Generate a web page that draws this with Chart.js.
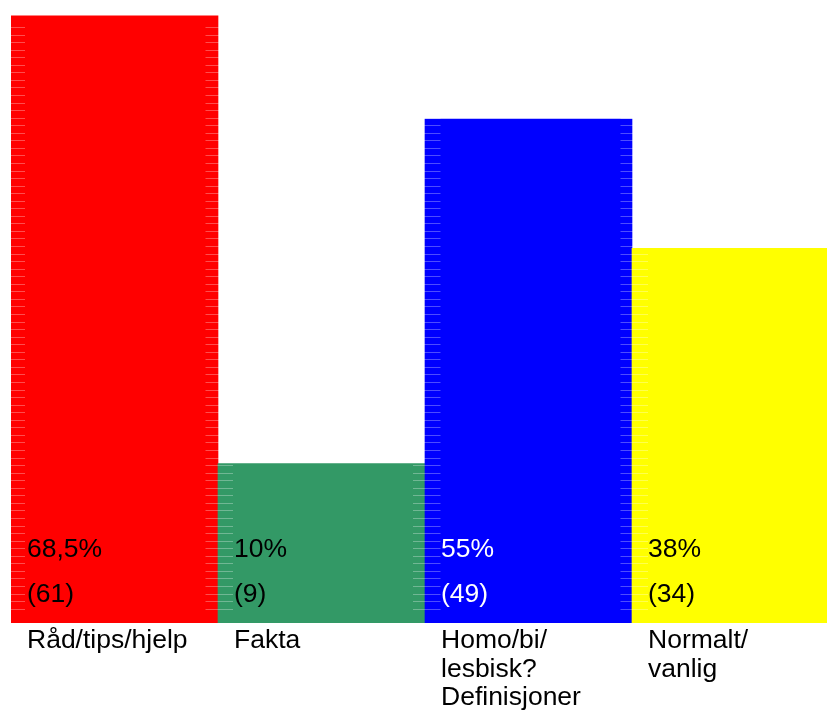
<!DOCTYPE html>
<html>
<head>
<meta charset="utf-8">
<script src="https://cdn.jsdelivr.net/npm/chart.js@4"></script>
<style>
  html, body { margin: 0; padding: 0; background: #fff; overflow: hidden; }
  #wrap { width: 850px; height: 711px; }
</style>
</head>
<body>
<div id="wrap"><canvas id="chart" width="850" height="711"></canvas></div>
<script>
// DATA -----------------------------------------------------------------------

const categories = [['Råd/tips/hjelp'], ['Fakta'], ['Homo/bi/', 'lesbisk?', 'Definisjoner'], ['Normalt/', 'vanlig']];
const counts = [61, 9, 49, 34];
const percentLabels = ['68,5%', '10%', '55%', '38%'];
const barColors = ['#FF0000', '#339966', '#0000FF', '#FFFF00'];
const textColors = ['#000000', '#000000', '#FFFFFF', '#000000'];

// bars hang from the bottom of the plot, below the zero line
const axisFloor = -9.5;
const axisTop = 61.2;

const font = '26.5px "Liberation Sans", Arial, sans-serif';

// LABEL PLUGIN ---------------------------------------------------------------

const barText = {
    id: 'barText',
    afterDraw(chart) {
        const ctx = chart.ctx;
        const meta = chart.getDatasetMeta(0);
        const bottom = chart.chartArea.bottom;
        ctx.save();
        ctx.font = font;
        ctx.textAlign = 'left';
        ctx.textBaseline = 'alphabetic';
        meta.data.forEach((bar, i) => {
            const left = bar.x - bar.width / 2 + 16;
            ctx.fillStyle = textColors[i];
            ctx.fillText(percentLabels[i], left, bottom - 66.5);
            ctx.fillText('(' + counts[i] + ')', left, bottom - 21.5);
            ctx.fillStyle = '#000000';
            categories[i].forEach((line, j) => {
                ctx.fillText(line, left, bottom + 25 + j * 28.7);
            });
        });
        ctx.restore();
    }
};

// CHART ----------------------------------------------------------------------

new Chart(document.getElementById('chart'), {
    type: 'bar',
    data: {
        labels: categories.map(c => c.join(' ')),
        datasets: [{
            data: counts.map(c => [axisFloor, c]),
            backgroundColor: barColors,
            borderWidth: 0,
            barPercentage: 1,
            categoryPercentage: 1
        }]
    },
    options: {
        responsive: false,
        animation: false,
        layout: {
            padding: {left: 11, right: 11, top: 14, bottom: 88}
        },
        plugins: {
            legend: {display: false},
            tooltip: {enabled: false}
        },
        scales: {
            x: {
                display: false
            },
            y: {
                min: axisFloor,
                max: axisTop,
                ticks: {display: false, stepSize: 0.877, maxTicksLimit: 200},
                border: {
                    display: false,
                    // short light marks only near the bar edges
                    dash: [14, 180.5, 27.5, 180, 27.5, 180, 27.5, 400]
                },
                grid: {
                    z: 1,
                    drawTicks: false,
                    color: 'rgba(255,255,255,0.3)',
                    lineWidth: 1
                },
                afterFit(scale) { scale.width = 0; }
            }
        }
    },
    plugins: [barText]
});
</script>
</body>
</html>
